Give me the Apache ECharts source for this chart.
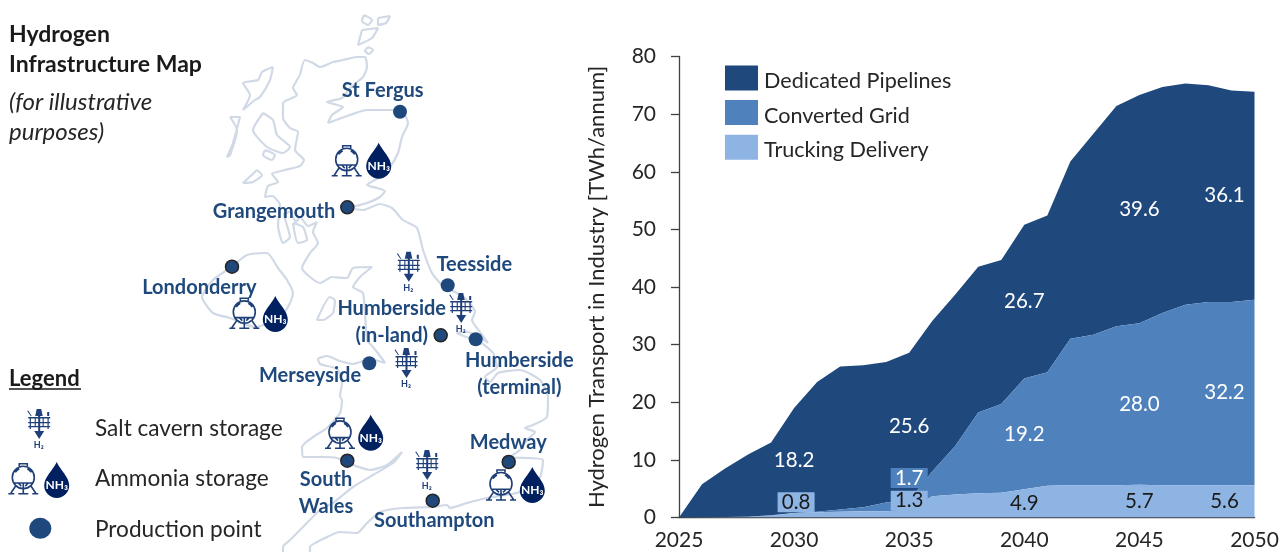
<!DOCTYPE html>
<html>
<head>
<meta charset="utf-8">
<style>html,body{margin:0;padding:0;background:#fff}#c{width:1288px;height:552px}</style>
<script src="https://cdn.jsdelivr.net/npm/echarts@6/dist/echarts.min.js"></script>
</head>
<body>
<div id="c"></div>
<script>
// ---------- chart data (TWh/annum) ----------
const years = [2025,2026,2027,2028,2029,2030,2031,2032,2033,2034,2035,2036,2037,2038,2039,2040,2041,2042,2043,2044,2045,2046,2047,2048,2049,2050];
const trucking  = [0,0.05,0.1,0.15,0.3,0.8,0.9,1.0,1.1,1.1,1.3,3.7,4.0,4.2,4.3,4.9,5.5,5.6,5.6,5.6,5.7,5.6,5.6,5.6,5.6,5.6];
const converted = [0,0,0,0,0.1,0,0.1,0.4,0.7,1.5,1.7,4.3,8.4,14.0,15.4,19.2,19.7,25.4,26.1,27.6,28.0,29.9,31.3,31.8,31.8,32.2];
const dedicated = [0,5.7,8.4,10.8,12.6,18.2,22.5,24.8,24.6,24.4,25.6,26.1,26.3,25.3,25.0,26.7,27.2,30.8,34.9,38.2,39.6,39.2,38.4,37.6,36.7,36.1];
const labelledYears = [2030,2035,2040,2045,2050];
const seriesNames = ['Dedicated Pipelines','Converted Grid','Trucking Delivery'];
const yAxisTitle = 'Hydrogen Transport in Industry [TWh/annum]';

// ---------- map data (illustrative sketch, map-plane coordinates) ----------
const siteNames  = ['St Fergus','Grangemouth','Londonderry','Teesside','Humberside\n(in-land)','Humberside\n(terminal)','Merseyside','South\nWales','Southampton','Medway'];
const siteLabelX = [382.7,274,199.3,474.3,391.7,519.3,310,326,434.3,508.3];
const siteLabelY = [91,211.5,287.7,264.3,322,373.7,376,492.7,521,442.7];
const plainSites = [[400,111.7],[447.7,285.3],[475.7,339.3],[369.3,363.3]];
const edgedSites = [[347.3,207.3],[232,266.7],[440.7,335.3],[347.3,460.7],[432.7,500.7],[508.7,462]];
const legendDot  = [[40.3,528.3]];
const tankSites  = [[346.7,160.7],[244.3,313.3],[340,433.3],[501,485],[23.3,478.7]];
const dropSites  = [[378.7,160.7],[275.3,314],[370.7,432.7],[532.3,485],[56.7,480]];
const rigSites   = [[408.3,266.7],[460.7,308],[406,363],[426.7,465],[38.7,424]];

const greatBritain = [[300,75],[305,60],[313,63],[320,67],[333,62],[343,60],[357,57],[365,57],[367,67],[363,77],[350,88],[342,98],[327,102],[343,107],[332,115],[328,123],[350,115],[367,110],[393,110],[403,112],[408,123],[402,137],[398,153],[390,167],[380,177],[367,185],[377,188],[385,191],[380,197],[367,203],[350,208],[363,210],[380,204],[392,208],[403,220],[417,228],[423,250],[432,273],[442,285],[455,292],[465,298],[475,312],[472,320],[480,332],[488,343],[480,337],[467,332],[457,333],[480,342],[493,353],[497,367],[485,377],[490,382],[498,373],[520,370],[540,380],[548,397],[547,417],[533,425],[525,428],[535,432],[527,440],[520,450],[510,457],[543,460],[540,477],[520,492],[487,498],[467,503],[450,508],[447,505],[433,507],[403,508],[380,512],[367,523],[357,533],[340,532],[327,537],[310,547],[310,552]];
const southWest = [[283,552],[283,547],[290,540],[303,527],[320,510],[333,503],[353,487],[373,475],[393,463],[402,452],[387,465],[370,470],[353,465],[337,458],[322,457],[303,457],[302,447],[313,437],[327,428],[340,413],[342,400],[340,396],[342,383],[337,369],[320,364],[318,359],[327,356],[340,361],[353,364],[370,359],[385,363],[383,360],[373,347],[367,340],[363,293],[353,287],[360,277],[372,267],[353,268],[347,278],[332,277],[320,283],[310,277],[302,268],[310,253],[318,243],[313,232],[317,222],[308,226],[300,217],[296,222],[290,212],[284,214],[290,237],[283,243],[278,225],[280,205],[272,196],[265,197],[268,186],[278,182],[272,174],[285,170],[300,166],[304,160],[295,150],[298,132],[290,128],[283,118],[283,103],[297,95],[293,88],[297,80],[300,75]];
const northernIreland = [[232,267],[247,255],[267,253],[278,268],[287,280],[293,293],[290,303],[280,318],[255,327],[230,318],[213,313],[202,297],[213,280],[232,267]];
const manIsle = [[335,300],[330,297],[317,320],[323,320],[333,313],[335,300]];
const arran = [[293,223],[298,243],[307,240],[303,227],[293,223]];
const lewis = [[273,67],[262,72],[258,80],[243,83],[250,95],[243,110],[255,100],[260,97],[270,80],[273,67]];
const uist = [[230,117],[240,117],[233,143],[227,157],[230,155],[237,130],[230,117]];
const skye = [[263,113],[273,120],[277,135],[290,147],[283,153],[267,147],[253,130],[263,113]];
const mull = [[257,170],[243,183],[253,182],[262,175],[257,170]];
const jura = [[265,150],[275,155],[272,160],[263,155],[265,150]];
const orkneyA = [[364,15],[372,20],[368,25],[362,21],[364,15]];
const orkneyB = [[378,18],[390,16],[386,23],[378,25],[378,18]];
const orkneyC = [[362,30],[378,28],[372,38],[358,45],[362,30]];
const orkneyD = [[368,47],[373,50],[369,54],[365,51],[368,47]];
const coastlines = [greatBritain,southWest,northernIreland,manIsle,arran,lewis,uist,skye,mull,jura,orkneyA,orkneyB,orkneyC,orkneyD];

// ---------- glyph shapes ----------
const tankPath = 'path://M15 2.5A11 11 0 1 1 14.99 2.5ZM11 2.5L11 0L19 0L19 2.5M7 8.5A10 10 0 0 1 11 5M23 8.5A10 10 0 0 0 19 5M6 19L24 19M8 21L2.5 29M22 21L27.5 29M15 19L15 29M0 29.5L6 29.5M24 29.5L30 29.5M10 29.5L20 29.5M10 19L13 22M20 19L17 22';
const dropPath = 'path://M12.5 0C16 8 25 15 25 23.5A12.5 12.5 0 0 1 0 23.5C0 15 9 8 12.5 0Z';
const rigPath  = 'path://M9.5 0L14 0L15.5 7L8 7ZM1 8L23 8L23 9.4L1 9.4ZM1 13L23 13L23 14.2L1 14.2ZM1 17L23 17L23 18.2L1 18.2ZM2.5 8L3.7 8L3.7 20L2.5 20ZM7.5 8L8.6 8L8.6 18L7.5 18ZM15.4 8L16.5 8L16.5 18L15.4 18ZM20.3 8L21.5 8L21.5 20L20.3 20ZM11 7L13 7L13 22L17 22L12 30L7 22L11 22ZM0 2L1 1.5L4.5 7L3.5 7ZM20 3L22 3L22 7L20 7Z';

const inkFont = 'Lato', ink = '#262626', navy = '#1f497d', deep = '#002060', mid = '#4f81bd', pale = '#8eb4e3';

const hidden = {xAxisIndex:1, yAxisIndex:1, silent:true, animation:false};
const coastSeries = coastlines.map(c => ({...hidden, type:'line', data:c, symbol:'none', smooth:0.2, clip:false,
  lineStyle:{color:'#d0d9e5', width:2.2}, z:1}));

function labelSeries(values, below, color, tweak){
  return {type:'scatter', symbolSize:0, silent:true, animation:false, z:10, itemStyle:{opacity:1},
    data: labelledYears.filter(y => values[years.indexOf(y)] > 0).map(y => {
      const i = years.indexOf(y), t = (tweak && tweak[y]) || {};
      return {value:[i, below[i] + values[i]/2],
        label:{show:true, formatter:values[i].toFixed(1), position:'inside', color:t.color||color, fontFamily:inkFont, fontSize:20.5,
          offset:[y===2050?-30:(t.dx||0), t.dy||0],
          ...(t.bg?{backgroundColor:t.bg, width:37, height:20, lineHeight:20, align:'center', verticalAlign:'middle'}:{})}};
    })};
}
const zeros = years.map(() => 0);
const sum2 = trucking.map((v,i) => v + converted[i]);

const option = {
  animation:false,
  grid:[{left:679, right:33.5, top:56.5, bottom:34.5},{left:0, top:0, width:620, height:552}],
  xAxis:[
    {type:'category', data:years.map(String), boundaryGap:false,
      axisLine:{lineStyle:{color:'#404040',width:1.3}}, axisTick:{show:false},
      axisLabel:{interval:4, color:ink, fontFamily:inkFont, fontSize:21, margin:12, showMinLabel:true, showMaxLabel:true}},
    {type:'value', gridIndex:1, min:0, max:620, show:false}
  ],
  yAxis:[
    {type:'value', min:0, max:80, interval:10, splitLine:{show:false},
      axisLine:{show:true,lineStyle:{color:'#404040',width:1.3}}, axisTick:{show:true,length:8,lineStyle:{color:'#404040',width:1.3}},
      axisLabel:{color:ink, fontFamily:inkFont, fontSize:21, margin:23},
      name:yAxisTitle, nameLocation:'middle', nameGap:71, nameRotate:90,
      nameTextStyle:{color:ink, fontFamily:inkFont, fontSize:22}},
    {type:'value', gridIndex:1, min:0, max:552, inverse:true, show:false}
  ],
  legend:{orient:'vertical', left:725, top:64, padding:0, itemWidth:33, itemHeight:25, itemGap:6.6, icon:'rect', selectedMode:false,
    data:seriesNames, formatter:n => '{t|' + n + '}',
    textStyle:{color:ink, fontFamily:inkFont, fontSize:21.6, rich:{t:{color:ink, fontFamily:inkFont, fontSize:21.6, lineHeight:26, padding:[6,0,0,1]}}}},
  series:[
    {name:seriesNames[2], type:'line', stack:'h2', data:trucking, symbol:'none', lineStyle:{width:0}, itemStyle:{color:pale}, areaStyle:{color:pale, opacity:1}, silent:true, z:4},
    {name:seriesNames[1], type:'line', stack:'h2', data:converted, symbol:'none', lineStyle:{width:0}, itemStyle:{color:mid}, areaStyle:{color:mid, opacity:1}, silent:true, z:3},
    {name:seriesNames[0], type:'line', stack:'h2', data:dedicated, symbol:'none', lineStyle:{width:0}, itemStyle:{color:navy}, areaStyle:{color:navy, opacity:1}, silent:true, z:2},
    labelSeries(trucking, zeros, '#1a1a1a', {2030:{bg:pale,dx:2,dy:-13}, 2035:{bg:pale,dy:-13}}),
    labelSeries(converted, trucking, '#ffffff', {2035:{bg:mid,dy:-27}}),
    labelSeries(dedicated, sum2, '#ffffff'),
    ...coastSeries,
    {...hidden, type:'scatter', data:plainSites, symbolSize:14, itemStyle:{color:navy, opacity:1}, z:5},
    {...hidden, type:'scatter', data:legendDot, symbolSize:[22,21], itemStyle:{color:navy, opacity:1}, z:5},
    {...hidden, type:'scatter', data:edgedSites, symbolSize:13, itemStyle:{color:navy, opacity:1, borderColor:'#262626', borderWidth:1.5}, z:5},
    {...hidden, type:'scatter', data:tankSites, symbol:tankPath, symbolSize:30, itemStyle:{color:'rgba(0,0,0,0)', opacity:1, borderColor:'#1f3f78', borderWidth:1.6}, z:6},
    {...hidden, type:'scatter', data:dropSites, symbol:dropPath, symbolSize:[25,36], itemStyle:{color:deep, opacity:1}, z:6,
      label:{show:true, position:'inside', formatter:'NH₃', color:'#fff', fontFamily:inkFont, fontWeight:'bold', fontSize:12, offset:[0,5]}},
    {...hidden, type:'scatter', data:rigSites, symbol:rigPath, symbolSize:[23,30], itemStyle:{color:'#1f3f78', opacity:1}, z:6,
      label:{show:true, position:'bottom', distance:2, formatter:'H₂', color:'#1f3f78', fontFamily:inkFont, fontWeight:'bold', fontSize:9}},
    {...hidden, type:'scatter', symbolSize:0, z:7, itemStyle:{opacity:1},
      data:siteNames.map((n,i) => ({value:[siteLabelX[i], siteLabelY[i]],
        label:{show:true, position:'inside', formatter:n, color:navy, fontFamily:inkFont, fontWeight:'bold', fontSize:20, lineHeight:26.7, align:'center', verticalAlign:'middle'}}))}
  ],
  graphic:[
    {type:'text', left:9, top:20, style:{text:'Hydrogen\nInfrastructure Map', font:'bold 23px Lato', fill:'#1a1a1a', lineHeight:30}},
    {type:'text', left:9, top:87, style:{text:'(for illustrative\npurposes)', font:'italic 24px Lato', fill:ink, lineHeight:30}},
    {type:'text', left:9, top:367, style:{text:'Legend', font:'bold 22px Lato', fill:'#1a1a1a', lineHeight:24}},
    {type:'line', shape:{x1:9,y1:389,x2:81,y2:389}, style:{stroke:'#1a1a1a', lineWidth:1.5}},
    {type:'text', left:95, top:417, style:{text:'Salt cavern storage', font:'22.6px Lato', fill:ink, lineHeight:24}},
    {type:'text', left:95, top:467, style:{text:'Ammonia storage', font:'22.6px Lato', fill:ink, lineHeight:24}},
    {type:'text', left:95, top:518, style:{text:'Production point', font:'22.6px Lato', fill:ink, lineHeight:24}}
  ]
};
const chart = echarts.init(document.getElementById('c'), null, {renderer:'canvas'});
chart.setOption(option);
</script>
</body>
</html>
